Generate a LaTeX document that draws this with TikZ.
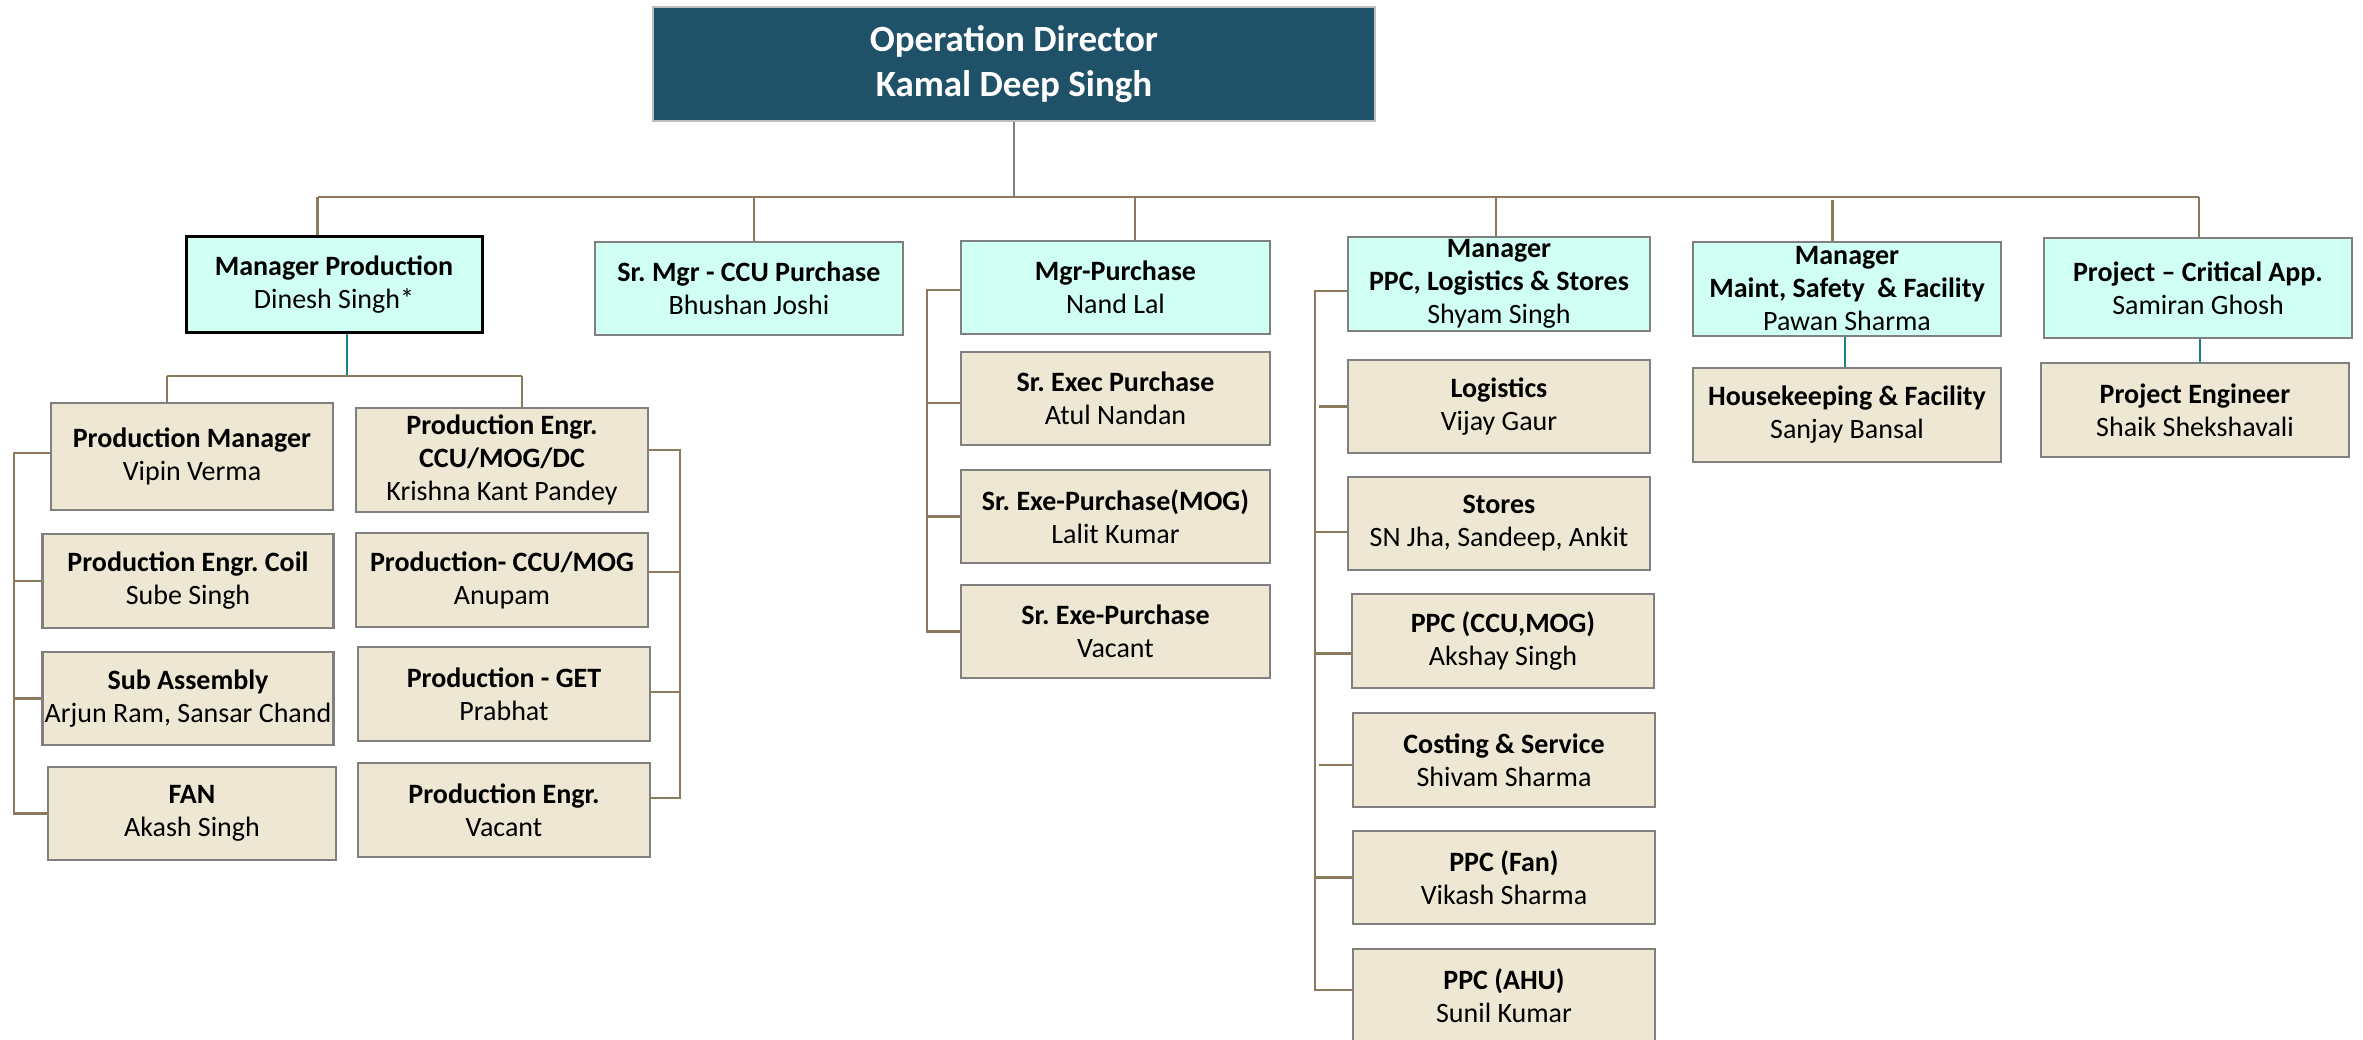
\documentclass[tikz,border=0pt]{standalone}
\usepackage{fontspec}
\setmainfont{Carlito}
\frenchspacing
\definecolor{topfill}{RGB}{31,82,105}
\definecolor{topline}{RGB}{190,190,190}
\definecolor{cyanfill}{RGB}{208,255,243}
\definecolor{tanfill}{RGB}{238,231,212}
\definecolor{boxline}{RGB}{128,128,128}
\definecolor{brownline}{RGB}{140,122,92}
\definecolor{tealline}{RGB}{30,128,128}
\definecolor{greyline}{RGB}{128,128,128}
\tikzset{
  box/.style={draw=boxline, line width=2.5pt, inner sep=0pt, align=center,
    font=\fontsize{28}{33}\selectfont\frenchspacing, text=black},
  mgrbox/.style={box, fill=cyanfill},
  staffbox/.style={box, fill=tanfill},
  sz/.style 2 args={minimum width=#1pt, minimum height=#2pt},
  conn/.style={draw=brownline, line width=2.5pt},
  tconn/.style={draw=tealline, line width=2pt},
  gconn/.style={draw=greyline, line width=2pt},
}
\begin{document}
\begin{tikzpicture}[x=1pt, y=-1pt]
\useasboundingbox (0,0) rectangle (2363,1040);
\clip (0,0) rectangle (2363,1040);
\fill[white] (0,0) rectangle (2363,1040);

% top
\node[box, fill=topfill, draw=topline, sz={722}{114}, text=white,
  font=\fontsize{37}{45}\selectfont\bfseries] (top) at (1014,64)
  {Operation Director\\Kamal Deep Singh};

% level 1
\node[mgrbox, draw=black, line width=3pt, sz={296}{96}] (mp) at (334,285)
  {\textbf{Manager Production}\\Dinesh Singh*};
\node[mgrbox, sz={308}{93}] (srm) at (749,288.5)
  {\textbf{Sr. Mgr - CCU Purchase}\\Bhushan Joshi};
\node[mgrbox, sz={309}{93}] (mgp) at (1115.5,287.5)
  {\textbf{Mgr-Purchase}\\Nand Lal};
\node[mgrbox, sz={302}{94}] (ppc) at (1499,284)
  {\textbf{Manager}\\\textbf{PPC, Logistics \& Stores}\\Shyam Singh};
\node[mgrbox, sz={308}{94}] (mnt) at (1847,289)
  {\textbf{Manager}\\\textbf{Maint, Safety\ \ \& Facility}\\Pawan Sharma};
\node[mgrbox, sz={308}{100}] (prj) at (2198,288)
  {\textbf{Project -- Critical App.}\\Samiran Ghosh};

% production children
\node[staffbox, sz={282}{107}] (pm) at (192,456.5)
  {\textbf{Production Manager}\\Vipin Verma};
\node[staffbox, sz={292}{104}] (pe1) at (502,460)
  {\textbf{Production Engr.}\\\textbf{CCU/MOG/DC}\\Krishna Kant Pandey};
\node[staffbox, sz={291}{94}] (pec) at (188,581)
  {\textbf{Production Engr. Coil}\\Sube Singh};
\node[staffbox, sz={292}{94}] (pcm) at (502,580)
  {\textbf{Production- CCU/MOG}\\Anupam};
\node[staffbox, sz={291}{93}] (sa) at (188,698.5)
  {\textbf{Sub Assembly}\\Arjun Ram, Sansar Chand};
\node[staffbox, sz={292}{94}] (pg) at (504,694)
  {\textbf{Production - GET}\\Prabhat};
\node[staffbox, sz={288}{93}] (fan) at (192,813.5)
  {\textbf{FAN}\\Akash Singh};
\node[staffbox, sz={292}{94}] (pev) at (504,810)
  {\textbf{Production Engr.}\\Vacant};

% purchase children
\node[staffbox, sz={309}{93}] (se1) at (1115.5,398.5)
  {\textbf{Sr. Exec Purchase}\\Atul Nandan};
\node[staffbox, sz={309}{93}] (se2) at (1115.5,516.5)
  {\textbf{Sr. Exe-Purchase(MOG)}\\Lalit Kumar};
\node[staffbox, sz={309}{93}] (se3) at (1115.5,631.5)
  {\textbf{Sr. Exe-Purchase}\\Vacant};

% PPC children
\node[staffbox, sz={302}{93}] (log) at (1499,406.5)
  {\textbf{Logistics}\\Vijay Gaur};
\node[staffbox, sz={302}{93}] (sto) at (1499,523.5)
  {\textbf{Stores}\\SN Jha, Sandeep, Ankit};
\node[staffbox, sz={302}{94}] (pp1) at (1503,641)
  {\textbf{PPC (CCU,MOG)}\\Akshay Singh};
\node[staffbox, sz={302}{94}] (cst) at (1504,760)
  {\textbf{Costing \& Service}\\Shivam Sharma};
\node[staffbox, sz={302}{93}] (pfn) at (1504,877.5)
  {\textbf{PPC (Fan)}\\Vikash Sharma};
\node[staffbox, sz={302}{94}] (ahu) at (1504,996)
  {\textbf{PPC (AHU)}\\Sunil Kumar};

% maint / project children
\node[staffbox, sz={308}{94}] (hk) at (1847,415)
  {\textbf{Housekeeping \& Facility}\\Sanjay Bansal};
\node[staffbox, sz={308}{94}] (pen) at (2195,410)
  {\textbf{Project Engineer}\\Shaik Shekshavali};

% ---- connectors ----
\coordinate (bus) at (1014,197);
\coordinate (j1) at (317.5,197);
\coordinate (j2) at (754,197);
\coordinate (j3) at (1135,197);
\coordinate (j4) at (1496,197);
\coordinate (j5) at (1832.6,197);
\coordinate (j6) at (2199,197);
\draw[gconn] (top.south) -- (bus);
\draw[conn] (j1) -- (j6);
\draw[conn] (j1) -- (j1 |- mp.north);
\draw[conn] (j2) -- (j2 |- srm.north);
\draw[conn] (j3) -- (j3 |- mgp.north);
\draw[conn] (j4) -- (j4 |- ppc.north);
\draw[conn] ([yshift=-3pt]j5) -- (j5 |- mnt.north);
\draw[conn] (j6) -- (j6 |- prj.north);

% production sub-tree
\coordinate (pb) at (347,376);
\coordinate (pbl) at (167,376);
\coordinate (pbr) at (522,376);
\draw[tconn] (pb |- mp.south) -- (pb);
\draw[conn] (pbl) -- (pbr);
\draw[conn] (pbl) -- (pbl |- pm.north);
\draw[conn] (pbr) -- (pbr |- pe1.north);

\coordinate (xl) at (14,0);
\coordinate (pmL) at ([yshift=3.5pt]pm.west);
\draw[conn] (pmL) -| (xl |- fan.west) -- (fan.west);
\draw[conn] (pec.west) -- (pec.west -| xl);
\draw[conn] (sa.west) -- (sa.west -| xl);

\coordinate (xr) at (680,0);
\coordinate (pe1R) at ([yshift=10pt]pe1.east);
\coordinate (pcmR) at ([yshift=8pt]pcm.east);
\coordinate (pgR) at ([yshift=2pt]pg.east);
\coordinate (pevR) at ([yshift=12pt]pev.east);
\draw[conn] (pe1R) -| (xr |- pevR) -- (pevR);
\draw[conn] (pcmR) -- (pcmR -| xr);
\draw[conn] (pgR) -- (pgR -| xr);

% purchase sub-tree
\coordinate (xp) at (927,0);
\coordinate (mgpL) at ([yshift=-2.5pt]mgp.west);
\coordinate (se1L) at ([yshift=-4.5pt]se1.west);
\draw[conn] (mgpL) -| (xp |- se3.west) -- (se3.west);
\draw[conn] (se1L) -- (se1L -| xp);
\draw[conn] (se2.west) -- (se2.west -| xp);

% PPC sub-tree
\coordinate (xq) at (1315,0);
\coordinate (xq2) at (1319,0);
\coordinate (ppcL) at ([yshift=-7pt]ppc.west);
\coordinate (stoL) at ([yshift=-8.5pt]sto.west);
\coordinate (pp1L) at ([yshift=-12.7pt]pp1.west);
\coordinate (cstL) at ([yshift=-5pt]cst.west);
\coordinate (ahuL) at ([yshift=6pt]ahu.west);
\draw[conn] (ppcL) -| (xq |- ahuL) -- (ahuL);
\draw[conn] (log.west) -- (log.west -| xq2);
\draw[conn] (stoL) -- (stoL -| xq);
\draw[conn] (pp1L) -- (pp1L -| xq);
\draw[conn] (cstL) -- (cstL -| xq2);
\draw[conn] (pfn.west) -- (pfn.west -| xq);

% teal connectors
\coordinate (tm) at (1845.4,0);
\draw[tconn] (tm |- mnt.south) -- (tm |- hk.north);
\coordinate (tp) at (2200,0);
\draw[tconn] (tp |- prj.south) -- (tp |- pen.north);
\end{tikzpicture}
\end{document}
